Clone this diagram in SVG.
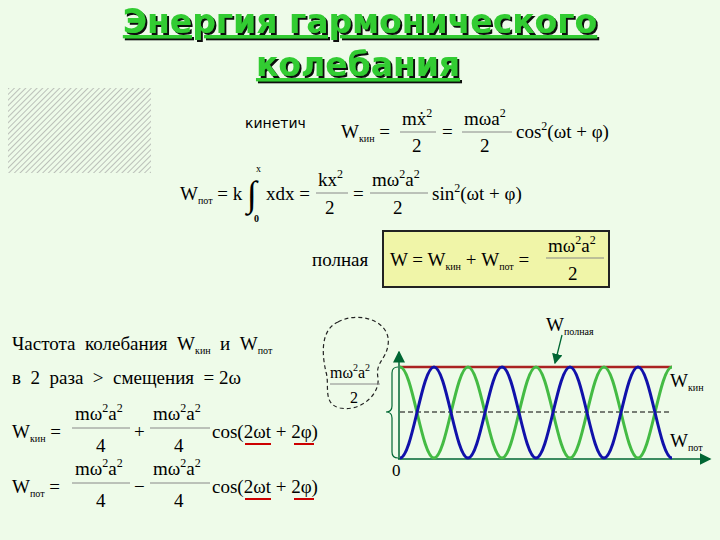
<svg xmlns="http://www.w3.org/2000/svg" width="720" height="540" viewBox="0 0 720 540" font-family="Liberation Serif, DejaVu Serif, serif">
<style>
.f{font-family:'Liberation Serif','DejaVu Serif',serif;font-size:19px;fill:#000}
.s{font-size:10px}
.sup{font-size:12px}
.ln{stroke:#888;stroke-width:1}
.ul{stroke:#c00;stroke-width:2}
.t{font-family:'DejaVu Sans',sans-serif;font-weight:bold;font-size:33px;fill:#3c3;text-decoration:underline}
</style>
<defs>
<pattern id="h" width="4" height="4" patternUnits="userSpaceOnUse" patternTransform="rotate(45)"><rect width="4" height="4" fill="#eefbe9"/><line x1="0" y1="0" x2="0" y2="4" stroke="#999" stroke-width="1.2"/></pattern>
<marker id="ar" markerWidth="8" markerHeight="8" refX="7" refY="4" orient="auto"><path d="M0,0 L8,4 L0,8z" fill="#063"/></marker>
<filter id="sh" x="-5%" y="-20%" width="110%" height="140%"><feDropShadow dx="2" dy="2" stdDeviation="0.3" flood-color="#111"/></filter>
</defs>
<rect width="720" height="540" fill="#eefbe9"/>
<g id="title" filter="url(#sh)">
<text x="360" y="33" text-anchor="middle" class="t">Энергия гармонического</text>
<text x="358" y="76" text-anchor="middle" class="t">колебания</text>
</g>
<rect x="8" y="88" width="143" height="85" fill="url(#h)"/>
<g id="kin">
<text x="245" y="128" font-family="DejaVu Sans, sans-serif" font-size="14">кинетич</text>
<text x="341" y="138" class="f">W<tspan class="s" dy="4">кин</tspan><tspan dy="-4"> =</tspan></text>
<text x="402" y="125" class="f">mẋ<tspan class="sup" dy="-8">2</tspan></text>
<line x1="400" y1="132" x2="436" y2="132" class="ln"/>
<text x="412" y="152" class="f">2</text>
<text x="442" y="138" class="f">=</text>
<text x="464" y="125" class="f">mωa<tspan class="sup" dy="-8">2</tspan></text>
<line x1="462" y1="132" x2="512" y2="132" class="ln"/>
<text x="480" y="152" class="f">2</text>
<text x="516" y="138" class="f">cos<tspan class="sup" dy="-8">2</tspan><tspan dy="8">(ωt + φ)</tspan></text>
</g>
<g id="pot">
<text x="180" y="200" class="f">W<tspan class="s" dy="4">пот</tspan><tspan dy="-4"> = k</tspan></text>
<text x="247" y="206" font-size="36">∫</text>
<text x="256" y="172" font-size="10">x</text>
<text x="254" y="222" font-size="10" font-weight="bold">0</text>
<text x="266" y="200" class="f">xdx =</text>
<text x="318" y="186" class="f">kx<tspan class="sup" dy="-8">2</tspan></text>
<line x1="316" y1="193" x2="348" y2="193" class="ln"/>
<text x="325" y="214" class="f">2</text>
<text x="353" y="200" class="f">=</text>
<text x="372" y="186" class="f">mω<tspan class="sup" dy="-8">2</tspan><tspan dy="8">a</tspan><tspan class="sup" dy="-8">2</tspan></text>
<line x1="370" y1="193" x2="428" y2="193" class="ln"/>
<text x="393" y="214" class="f">2</text>
<text x="432" y="200" class="f">sin<tspan class="sup" dy="-8">2</tspan><tspan dy="8">(ωt + φ)</tspan></text>
</g>
<g id="full">
<text x="312" y="266" class="f">полная</text>
<rect x="383" y="231" width="226" height="56" fill="#f0f5a8" stroke="#222" stroke-width="2"/>
<text x="390" y="266" class="f">W = W<tspan class="s" dy="4">кин</tspan><tspan dy="-4"> + W</tspan><tspan class="s" dy="4">пот</tspan><tspan dy="-4"> =</tspan></text>
<text x="548" y="252" class="f">mω<tspan class="sup" dy="-8">2</tspan><tspan dy="8">a</tspan><tspan class="sup" dy="-8">2</tspan></text>
<line x1="546" y1="258" x2="604" y2="258" class="ln"/>
<text x="568" y="280" class="f">2</text>
</g>
<g id="freq">
<text x="12" y="350" class="f" xml:space="preserve">Частота  колебания  W<tspan class="s" dy="4">кин</tspan><tspan dy="-4">  и  W</tspan><tspan class="s" dy="4">пот</tspan></text>
<text x="12" y="384" class="f" xml:space="preserve">в  2  раза  &gt;  смещения  = 2ω</text>
<text x="12" y="438" class="f">W<tspan class="s" dy="4">кин</tspan><tspan dy="-4"> =</tspan></text>
<text x="75" y="420" class="f">mω<tspan class="sup" dy="-8">2</tspan><tspan dy="8">a</tspan><tspan class="sup" dy="-8">2</tspan></text>
<line x1="72" y1="428" x2="130" y2="428" class="ln"/>
<text x="96" y="452" class="f">4</text>
<text x="134" y="438" class="f">+</text>
<text x="153" y="420" class="f">mω<tspan class="sup" dy="-8">2</tspan><tspan dy="8">a</tspan><tspan class="sup" dy="-8">2</tspan></text>
<line x1="150" y1="428" x2="210" y2="428" class="ln"/>
<text x="174" y="452" class="f">4</text>
<text x="212" y="438" class="f">cos(2ωt + 2φ)</text>
<line x1="245" y1="444" x2="271" y2="444" class="ul"/>
<line x1="294" y1="444" x2="314" y2="444" class="ul"/>
<text x="12" y="493" class="f">W<tspan class="s" dy="4">пот</tspan><tspan dy="-4"> =</tspan></text>
<text x="75" y="475" class="f">mω<tspan class="sup" dy="-8">2</tspan><tspan dy="8">a</tspan><tspan class="sup" dy="-8">2</tspan></text>
<line x1="72" y1="483" x2="130" y2="483" class="ln"/>
<text x="96" y="507" class="f">4</text>
<text x="134" y="493" class="f">−</text>
<text x="153" y="475" class="f">mω<tspan class="sup" dy="-8">2</tspan><tspan dy="8">a</tspan><tspan class="sup" dy="-8">2</tspan></text>
<line x1="150" y1="483" x2="210" y2="483" class="ln"/>
<text x="174" y="507" class="f">4</text>
<text x="212" y="493" class="f">cos(2ωt + 2φ)</text>
<line x1="245" y1="499" x2="271" y2="499" class="ul"/>
<line x1="294" y1="499" x2="314" y2="499" class="ul"/>
</g>
<g id="graph">
<path d="M338,322 C360,310 392,322 388,345 C386,360 375,362 378,378 C380,395 360,412 340,408 C322,404 330,385 326,372 C322,355 320,330 338,322z" fill="none" stroke="#222" stroke-width="1.2" stroke-dasharray="4,3"/>
<text x="330" y="378" class="f" font-size="16" style="font-size:16px">mω<tspan dy="-7" style="font-size:10px">2</tspan><tspan dy="7">a</tspan><tspan dy="-7" style="font-size:10px">2</tspan></text>
<line x1="330" y1="384" x2="380" y2="384" class="ln"/>
<text x="350" y="403" class="f" style="font-size:16px">2</text>
<path d="M398,367 Q392,367 392,373 L392,406 Q392,412 386,412 Q392,412 392,418 L392,452 Q392,458 398,458" fill="none" stroke="#063" stroke-width="1.2"/>
<line x1="399" y1="459" x2="399" y2="352" stroke="#063" stroke-width="1.5" marker-end="url(#ar)"/>
<line x1="398" y1="459" x2="710" y2="459" stroke="#063" stroke-width="1.5" marker-end="url(#ar)"/>
<line x1="400" y1="412" x2="672" y2="412" stroke="#000" stroke-width="1" stroke-dasharray="5,3"/>
<line x1="400" y1="367" x2="672" y2="367" stroke="#a22" stroke-width="2.5"/>
<path d="M400,367 C412.4,367 421.6,458 434,458 S455.6,367 468,367 S489.6,458 502,458 S523.6,367 536,367 S557.6,458 570,458 S591.6,367 604,367 S625.6,458 638,458 S659.6,367 672,367" fill="none" stroke="#4b4" stroke-width="3"/>
<path d="M400,458 C412.4,458 421.6,367 434,367 S455.6,458 468,458 S489.6,367 502,367 S523.6,458 536,458 S557.6,367 570,367 S591.6,458 604,458 S625.6,367 638,367 S659.6,458 672,458" fill="none" stroke="#11a" stroke-width="3"/>
<line x1="562" y1="335" x2="555" y2="363" stroke="#063" stroke-width="1.3" marker-end="url(#ar)"/>
<text x="546" y="331" class="f">W<tspan class="s" dy="4">полная</tspan></text>
<text x="670" y="387" class="f">W<tspan class="s" dy="4">кин</tspan></text>
<text x="670" y="447" class="f">W<tspan class="s" dy="4">пот</tspan></text>
<text x="392" y="476" class="f" style="font-size:17px">0</text>
</g>
</svg>
